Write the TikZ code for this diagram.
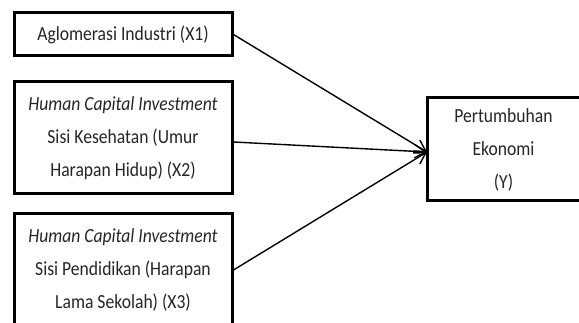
\documentclass[tikz,border=0pt]{standalone}
\usepackage{fontspec}
\setmainfont{Carlito}[FakeStretch=0.88]
\usetikzlibrary{arrows.meta}
\begin{document}
\begin{tikzpicture}[x=1pt,y=-1pt,
  boxstyle/.style={draw=black, line width=3pt, fill=white, align=center,
    inner sep=0pt, font=\fontsize{20}{33}\selectfont, text=black!85},
  conn/.style={line width=1.4pt, -{Straight Barb[length=11pt,width=13pt,line width=1.4pt]}}]
\useasboundingbox (0,0) rectangle (579,323);
\begin{scope}
\clip (0,0) rectangle (579,323);
\node[boxstyle, minimum width=218pt, minimum height=43pt] (x1) at (123,34.5) {Aglomerasi Industri (X1)};
\node[boxstyle, minimum width=218pt, minimum height=112pt] (x2) at (123,138) {\textit{Human Capital Investment}\\Sisi Kesehatan (Umur\\Harapan Hidup) (X2)};
\node[boxstyle, minimum width=218pt, minimum height=112pt] (x3) at (123,270) {\textit{Human Capital Investment}\\Sisi Pendidikan (Harapan\\Lama Sekolah) (X3)};
\node[boxstyle, minimum width=153pt, minimum height=103pt] (y) at (503.5,149.5) {Pertumbuhan\\Ekonomi\\(Y)};
\coordinate (tip) at (427,152);
\draw[conn] (x1.east) -- (tip);
\draw[conn] ([yshift=-4pt]x2.east) -- (tip);
\draw[conn] (x3.east) -- (tip);
\end{scope}
\end{tikzpicture}
\end{document}
